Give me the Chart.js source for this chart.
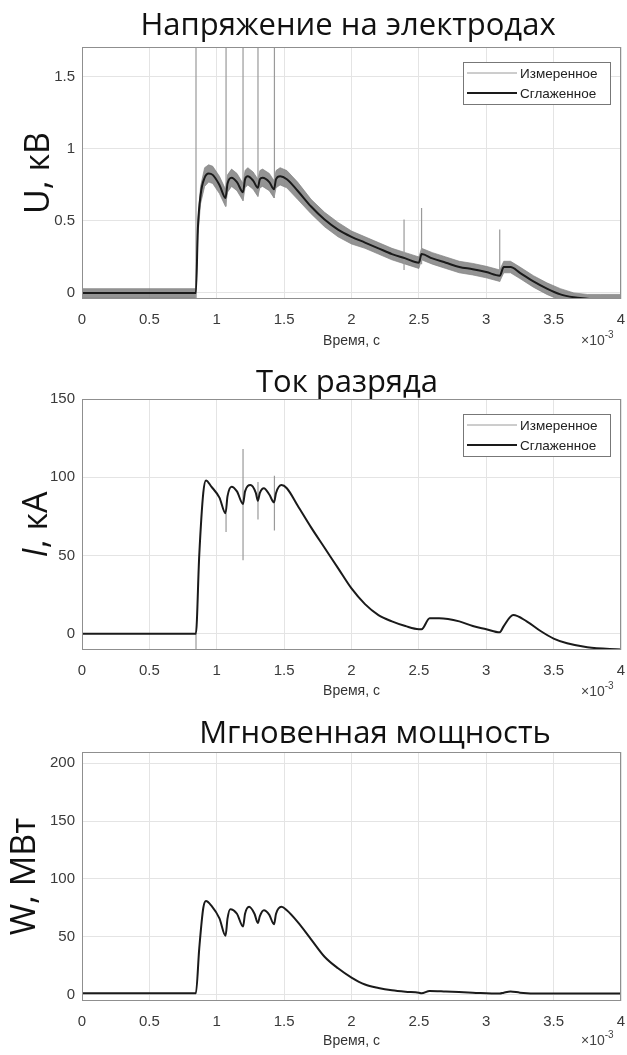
<!DOCTYPE html>
<html>
<head>
<meta charset="utf-8">
<script src="https://cdn.jsdelivr.net/npm/chart.js@4.4.1/dist/chart.umd.min.js"></script>
<style>
    html, body { margin: 0; padding: 0; background: #fff; overflow: hidden; }
    .panel { position: absolute; left: 0; width: 627px; }
    canvas { display: block; }
</style>
</head>
<body>
<div class="panel" style="top:0;height:352px"><canvas id="volt-chart"></canvas></div>
<div class="panel" style="top:352px;height:352px"><canvas id="current-chart"></canvas></div>
<div class="panel" style="top:704px;height:351px"><canvas id="power-chart"></canvas></div>
<script>
// Time axis, units of 1e-3 s
const timeTicks = [0, 0.5, 1, 1.5, 2, 2.5, 3, 3.5, 4];

// Voltage on electrodes, kV
const voltTicks = [0, 0.5, 1, 1.5];
const voltTime = [0, 0.845, 0.86, 0.88, 0.91, 0.94, 0.97, 1.02, 1.065, 1.08, 1.11, 1.15, 1.195, 1.21, 1.23, 1.27, 1.305, 1.32, 1.34, 1.39, 1.425, 1.44, 1.47, 1.52, 1.6, 1.7, 1.8, 1.9, 2.0, 2.1, 2.2, 2.3, 2.4, 2.5, 2.52, 2.6, 2.7, 2.8, 2.9, 3.0, 3.1, 3.13, 3.18, 3.25, 3.35, 3.45, 3.55, 3.65, 3.75, 3.85, 4.0];
const voltSmooth = [0, 0, 0.45, 0.68, 0.80, 0.83, 0.82, 0.75, 0.66, 0.76, 0.80, 0.77, 0.70, 0.79, 0.81, 0.78, 0.73, 0.79, 0.80, 0.77, 0.72, 0.79, 0.81, 0.79, 0.71, 0.60, 0.51, 0.44, 0.39, 0.35, 0.31, 0.27, 0.24, 0.21, 0.27, 0.24, 0.21, 0.18, 0.165, 0.145, 0.12, 0.18, 0.18, 0.14, 0.08, 0.03, -0.01, -0.03, -0.04, -0.05, -0.06];
const voltMeasHi = [0.03, 0.03, 0.50, 0.74, 0.87, 0.89, 0.88, 0.81, 0.72, 0.82, 0.86, 0.83, 0.76, 0.85, 0.87, 0.84, 0.79, 0.85, 0.86, 0.83, 0.78, 0.85, 0.87, 0.85, 0.77, 0.65, 0.56, 0.49, 0.43, 0.39, 0.35, 0.31, 0.28, 0.25, 0.31, 0.28, 0.25, 0.22, 0.205, 0.185, 0.16, 0.22, 0.22, 0.18, 0.12, 0.07, 0.03, 0.0, -0.01, -0.01, -0.01];
const voltMeasLo = [-0.035, -0.035, 0.40, 0.62, 0.74, 0.77, 0.76, 0.69, 0.60, 0.70, 0.74, 0.71, 0.64, 0.73, 0.75, 0.72, 0.67, 0.73, 0.74, 0.71, 0.66, 0.73, 0.75, 0.73, 0.65, 0.55, 0.46, 0.39, 0.34, 0.31, 0.27, 0.23, 0.20, 0.17, 0.23, 0.20, 0.17, 0.14, 0.125, 0.105, 0.08, 0.14, 0.14, 0.10, 0.04, -0.01, -0.05, -0.06, -0.07, -0.07, -0.07];
const voltSpikeTime = [0.846, 1.069, 1.195, 1.306, 1.428, 2.39, 2.52, 3.10];
const voltSpikeTop = [1.75, 1.75, 1.75, 1.75, 1.75, 0.51, 0.59, 0.44];
const voltSpikeBottom = [-0.04, 0.60, 0.64, 0.67, 0.66, 0.16, 0.20, 0.08];

// Discharge current, kA
const curTicks = [0, 50, 100, 150];
const curTime = [0, 0.845, 0.87, 0.9, 0.92, 0.96, 1.02, 1.065, 1.08, 1.11, 1.15, 1.195, 1.21, 1.25, 1.29, 1.305, 1.32, 1.35, 1.39, 1.425, 1.44, 1.48, 1.52, 1.6, 1.7, 1.8, 1.9, 2.0, 2.1, 2.2, 2.3, 2.4, 2.5, 2.52, 2.58, 2.65, 2.8, 2.9, 3.0, 3.1, 3.13, 3.2, 3.3, 3.4, 3.5, 3.6, 3.75, 4.0];
const curSmooth = [0, 0, 50, 90, 98, 94, 87, 77, 88, 94, 91, 83, 91, 95, 90, 85, 90, 93, 89, 84, 90, 95, 93, 82, 68, 55, 42, 29, 19, 12, 8, 5, 3, 3, 10, 10, 8, 5, 3, 1, 5, 12, 8, 2, -3, -6, -8.5, -10];
const curSpikeTime = [0.846, 1.069, 1.195, 1.306, 1.428];
const curSpikeTop = [0, 77, 118, 97, 101];
const curSpikeBottom = [-10, 65, 47, 73, 66];

// Instantaneous power, MW
const powTicks = [0, 50, 100, 150, 200];
const powTime = [0, 0.845, 0.87, 0.9, 0.92, 0.96, 1.02, 1.065, 1.08, 1.1, 1.15, 1.195, 1.21, 1.24, 1.28, 1.305, 1.32, 1.35, 1.39, 1.425, 1.44, 1.48, 1.52, 1.6, 1.7, 1.8, 1.9, 2.0, 2.1, 2.2, 2.3, 2.4, 2.5, 2.52, 2.58, 2.7, 2.9, 3.1, 3.13, 3.18, 3.25, 3.4, 4.0];
const powValues = [1.5, 1.5, 40, 75, 81, 77, 66, 51, 66, 74, 70, 59, 70, 76, 70, 62, 68, 73, 69, 61, 70, 76, 73, 63, 48, 33, 23, 15, 9, 6, 4, 2.8, 2, 1.5, 3.5, 3, 2, 1.2, 2, 3, 2, 1.2, 1.2];

const colors = {
    text: '#3a3a3a',
    grid: '#e4e4e4',
    frame: '#8f8f8f',
    measured: '#9a9a9a',
    band: 'rgba(128, 128, 128, 0.85)',
    smooth: '#1a1a1a'
};

const points = (xs, ys) => xs.map((x, i) => ({ x: x, y: ys[i] }));

function spikePoints(times, tops, bottoms) {
    const out = [];
    times.forEach((t, i) => {
        out.push({ x: t, y: bottoms[i] }, { x: t, y: tops[i] }, { x: t, y: null });
    });
    return out;
}

// Title, axes box, y label, x10^-3 marker and legend box
const panelDecor = {
    id: 'panelDecor',
    afterDraw(chart, args, opts) {
        const { ctx, chartArea: a } = chart;
        ctx.save();
        ctx.strokeStyle = colors.frame;
        ctx.lineWidth = 1;
        ctx.strokeRect(a.left + 0.5, a.top + 0.5, a.width - 1, a.height - 1);

        ctx.fillStyle = '#111';
        ctx.font = '31px "Open Sans"';
        ctx.textAlign = 'center';
        ctx.textBaseline = 'alphabetic';
        ctx.fillText(opts.title, opts.titleX, a.top - opts.titleGap);

        // y label, rotated, parts may be italic
        ctx.save();
        ctx.translate(opts.yTitleX, (a.top + a.bottom) / 2);
        ctx.rotate(-Math.PI / 2);
        ctx.textAlign = 'left';
        ctx.textBaseline = 'middle';
        const fonts = opts.yTitle.map(p => (p.italic ? 'italic ' : '') + '34px "Open Sans"');
        let total = 0;
        opts.yTitle.forEach((p, i) => { ctx.font = fonts[i]; total += ctx.measureText(p.text).width; });
        let x = -total / 2;
        opts.yTitle.forEach((p, i) => {
            ctx.font = fonts[i];
            ctx.fillText(p.text, x, 0);
            x += ctx.measureText(p.text).width;
        });
        ctx.restore();

        // exponent marker
        ctx.fillStyle = '#444';
        ctx.textAlign = 'left';
        ctx.font = '14px "Liberation Sans"';
        const ex = a.right - 40;
        const ey = a.bottom + opts.expGap;
        ctx.fillText('\u00d710', ex, ey);
        const w = ctx.measureText('\u00d710').width;
        ctx.font = '10px "Liberation Sans"';
        ctx.fillText('-3', ex + w, ey - 7);

        if (opts.legend) {
            const lx = a.right - 158, ly = a.top + 15, lw = 147, lh = 42;
            ctx.fillStyle = '#fff';
            ctx.fillRect(lx, ly, lw, lh);
            ctx.strokeStyle = '#777';
            ctx.strokeRect(lx + 0.5, ly + 0.5, lw, lh);
            ctx.font = '13.5px "Liberation Sans"';
            ctx.textBaseline = 'middle';
            ctx.fillStyle = '#222';
            const rows = [
                { label: 'Измеренное', color: colors.measured, width: 1, y: ly + 11 },
                { label: 'Сглаженное', color: colors.smooth, width: 2, y: ly + 31 }
            ];
            rows.forEach(r => {
                ctx.strokeStyle = r.color;
                ctx.lineWidth = r.width;
                ctx.beginPath();
                ctx.moveTo(lx + 4, r.y);
                ctx.lineTo(lx + 54, r.y);
                ctx.stroke();
                ctx.fillText(r.label, lx + 57, r.y + 1);
            });
        }
        ctx.restore();
    }
};

function makeScales(yMin, yMax, yTicks, xAxisHeight, xTitlePad) {
    return {
        x: {
            type: 'linear',
            min: 0,
            max: 4,
            afterBuildTicks: (scale) => { scale.ticks = timeTicks.map(v => ({ value: v })); },
            afterFit: (scale) => {
                scale.height = xAxisHeight;
                scale.paddingLeft = 0;
                scale.paddingRight = 0;
            },
            grid: { color: colors.grid, drawTicks: false },
            border: { display: false },
            ticks: { padding: 12, maxRotation: 0, callback: (v) => String(v) },
            title: {
                display: true,
                text: 'Время, с',
                color: '#333',
                font: { size: 14 },
                padding: { top: 0, bottom: xTitlePad }
            }
        },
        y: {
            min: yMin,
            max: yMax,
            afterBuildTicks: (scale) => { scale.ticks = yTicks.map(v => ({ value: v })); },
            afterFit: (scale) => {
                scale.width = 82;
                scale.paddingTop = 0;
                scale.paddingBottom = 0;
            },
            grid: { color: colors.grid, drawTicks: false },
            border: { display: false },
            ticks: { padding: 7, callback: (v) => String(v) }
        }
    };
}

function baseOptions(top, scales, decor) {
    return {
        responsive: true,
        maintainAspectRatio: false,
        animation: false,
        layout: { padding: { top: top, right: 6, left: 0, bottom: 0 } },
        elements: { point: { radius: 0 } },
        plugins: {
            legend: { display: false },
            tooltip: { enabled: false },
            panelDecor: decor
        },
        scales: scales
    };
}

Chart.defaults.font.family = '"Liberation Sans", Arial, sans-serif';
Chart.defaults.font.size = 15;
Chart.defaults.color = colors.text;

function createVoltageChart() {
    const ctx = document.getElementById('volt-chart');
    new Chart(ctx, {
        type: 'line',
        data: {
            datasets: [
                {
                    label: 'Сглаженное',
                    data: points(voltTime, voltSmooth),
                    borderColor: colors.smooth,
                    borderWidth: 2,
                    cubicInterpolationMode: 'monotone'
                },
                {
                    label: 'Измеренное',
                    data: spikePoints(voltSpikeTime, voltSpikeTop, voltSpikeBottom),
                    borderColor: colors.measured,
                    borderWidth: 1.2,
                    spanGaps: false
                },
                {
                    label: 'band-hi',
                    data: points(voltTime, voltMeasHi),
                    borderColor: colors.band,
                    borderWidth: 0.8,
                    fill: false
                },
                {
                    label: 'band-lo',
                    data: points(voltTime, voltMeasLo),
                    borderColor: colors.band,
                    backgroundColor: colors.band,
                    borderWidth: 0.8,
                    fill: '-1'
                }
            ]
        },
        options: baseOptions(47, makeScales(-0.042, 1.708, voltTicks, 53, 2), {
            title: 'Напряжение на электродах', titleX: 348, titleGap: 12,
            yTitle: [{ text: 'U, кВ' }], yTitleX: 39, expGap: 46, legend: true
        }),
        plugins: [panelDecor]
    });
}

function createCurrentChart() {
    const ctx = document.getElementById('current-chart');
    new Chart(ctx, {
        type: 'line',
        data: {
            datasets: [
                {
                    label: 'Сглаженное',
                    data: points(curTime, curSmooth),
                    borderColor: colors.smooth,
                    borderWidth: 2,
                    cubicInterpolationMode: 'monotone'
                },
                {
                    label: 'Измеренное',
                    data: spikePoints(curSpikeTime, curSpikeTop, curSpikeBottom),
                    borderColor: colors.measured,
                    borderWidth: 1.2,
                    spanGaps: false
                }
            ]
        },
        options: baseOptions(47, makeScales(-10.3, 150, curTicks, 54, 4), {
            title: 'Ток разряда', titleX: 347, titleGap: 7,
            yTitle: [{ text: 'I', italic: true }, { text: ', кА' }], yTitleX: 37, expGap: 46, legend: true
        }),
        plugins: [panelDecor]
    });
}

function createPowerChart() {
    const ctx = document.getElementById('power-chart');
    new Chart(ctx, {
        type: 'line',
        data: {
            datasets: [
                {
                    label: 'Мощность',
                    data: points(powTime, powValues),
                    borderColor: colors.smooth,
                    borderWidth: 2,
                    cubicInterpolationMode: 'monotone'
                }
            ]
        },
        options: baseOptions(48, makeScales(-5.2, 209.5, powTicks, 54, 5), {
            title: 'Мгновенная мощность', titleX: 375, titleGap: 9,
            yTitle: [{ text: 'W, МВт' }], yTitleX: 25, expGap: 44, legend: false
        }),
        plugins: [panelDecor]
    });
}

createVoltageChart();
createCurrentChart();
createPowerChart();
</script>
</body>
</html>
